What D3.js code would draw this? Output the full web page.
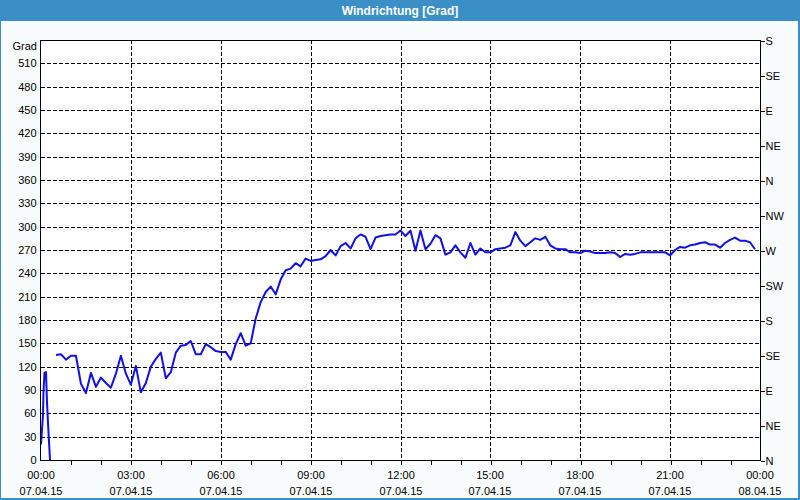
<!DOCTYPE html>
<html>
<head>
<meta charset="utf-8">
<script src="https://cdn.jsdelivr.net/npm/d3@7"></script>
<style>
  html, body { margin: 0; padding: 0; }
  body { width: 800px; height: 500px; overflow: hidden; background: #3b8fc7; }
  svg { display: block; }
  text { font-family: "Liberation Sans", Arial, sans-serif; font-size: 11px; fill: #000; }
</style>
</head>
<body>
<svg id="chart" width="800" height="500"></svg>
<script>
// ---- data ----
const chartTitle = "Windrichtung [Grad]";
const yUnit = "Grad";
const day = [2015, 3, 7]; // 07.04.2015
// first short segment (irregular samples just after midnight)
const startTimes = ["00:00", "00:04", "00:05", "00:07", "00:10", "00:12", "00:14", "00:18", "00:20"];
const startValues = [20, 58, 88, 112, 113, 75, 48, 0, null];
// main series: 10-minute samples from 00:30 to 23:50
const mainStart = "00:30";
const mainStepMinutes = 10;
const mainValues = [
  135, 136, 129, 134, 134, 98, 86, 112, 94, 106, 99, 93, 111, 134, 111,
  97, 121, 87, 99, 120, 130, 138, 105, 113, 138, 147, 148,
  153, 136, 136, 149, 145, 140,
  139, 139, 129, 149, 163, 147,
  150, 182, 203, 216, 223, 213,
  232, 244, 246, 253, 249, 259,
  256, 257, 258, 262, 270, 263,
  275, 279, 272, 285, 290, 287,
  271, 286, 288, 289, 290, 290,
  295, 288, 295, 269, 295, 271,
  278, 289, 285, 264, 267, 276,
  267, 260, 279, 264, 272, 267,
  267, 271, 272, 273, 276, 293,
  282, 275, 280, 285, 283, 287,
  276, 272, 271, 271, 267, 267,
  266, 269, 268, 266, 266, 266,
  267, 266, 261, 265, 264, 265,
  267, 267, 267, 267, 267, 267,
  263, 270, 274, 273, 276, 277,
  279, 280, 277, 277, 273, 279,
  283, 286, 282, 282, 280, 271
];
const yTicks = d3.range(0, 511, 30);
const dirTicks = d3.range(0, 541, 45);
const dirLabels = ["N", "NE", "E", "SE", "S", "SW", "W", "NW", "N", "NE", "E", "SE", "S"];
const xLabelHours = [0, 3, 6, 9, 12, 15, 18, 21, 24];

// ---- build points ----
function toDate(hhmm) {
  const [h, m] = hhmm.split(":").map(Number);
  return new Date(day[0], day[1], day[2], h, m);
}
const points = startTimes.map((t, i) => ({ t: toDate(t), v: startValues[i] }));
const t0 = toDate(mainStart);
mainValues.forEach((v, i) => {
  points.push({ t: new Date(t0.getTime() + i * mainStepMinutes * 60000), v });
});

// ---- layout ----
const svg = d3.select("#chart");
const L = 41, R = 760, T = 40, B = 460;

// background frame
svg.append("rect").attr("x", 0).attr("y", 0).attr("width", 800).attr("height", 500).attr("fill", "#3b8fc7");
svg.append("rect").attr("x", 1).attr("y", 21).attr("width", 797).attr("height", 477).attr("fill", "#f9fcfc");
svg.append("rect").attr("x", L).attr("y", T).attr("width", R - L).attr("height", B - T).attr("fill", "#ffffff");

svg.append("text").attr("x", 400).attr("y", 15).attr("text-anchor", "middle")
  .style("font-weight", "bold").style("font-size", "12px").style("fill", "#ffffff").text(chartTitle);

const x = d3.scaleTime().domain([toDate("00:00"), new Date(day[0], day[1], day[2] + 1, 0, 0)]).range([L, R]);
const y = d3.scaleLinear().domain([0, 540]).range([B, T]);

// grid
const grid = svg.append("g").attr("stroke", "#000").attr("stroke-width", 1)
  .attr("stroke-dasharray", "4,2").attr("shape-rendering", "crispEdges");
grid.selectAll("line.h").data(yTicks.filter(d => d > 0)).join("line")
  .attr("x1", L).attr("x2", R).attr("y1", d => Math.round(y(d)) + 0.5).attr("y2", d => Math.round(y(d)) + 0.5);
grid.selectAll("line.v").data(xLabelHours.filter(h => h > 0 && h < 24)).join("line")
  .attr("y1", T).attr("y2", B)
  .attr("x1", h => Math.round(x(new Date(day[0], day[1], day[2], h))) + 0.5)
  .attr("x2", h => Math.round(x(new Date(day[0], day[1], day[2], h))) + 0.5);

// data line
const line = d3.line().defined(d => d.v != null).x(d => x(d.t)).y(d => y(d.v));
svg.append("path").datum(points).attr("d", line)
  .attr("fill", "none").attr("stroke", "#1010e8").attr("stroke-width", 2).attr("stroke-linejoin", "round");

// frame
svg.append("rect").attr("x", L - 0.5).attr("y", T + 0.5).attr("width", R - L + 1).attr("height", B - T)
  .attr("fill", "none").attr("stroke", "#000").attr("shape-rendering", "crispEdges");

// left axis
const leftAxis = svg.append("g").attr("transform", `translate(${L - 0.5},0)`)
  .call(d3.axisLeft(y).tickValues(yTicks).tickSize(0).tickPadding(4).tickFormat(d3.format("d")));
leftAxis.select(".domain").remove();
leftAxis.selectAll("text").style("font-family", "Liberation Sans, Arial, sans-serif").style("font-size", "11px").attr("fill", "#000");
svg.append("text").attr("x", 37).attr("y", 50).attr("text-anchor", "end").text(yUnit);

// right axis
const rightAxis = svg.append("g").attr("transform", `translate(${R + 0.5},0.5)`)
  .call(d3.axisRight(y).tickValues(dirTicks).tickSize(4).tickPadding(1).tickFormat((d, i) => dirLabels[i]));
rightAxis.select(".domain").remove();
rightAxis.selectAll("line").attr("stroke", "#000").attr("shape-rendering", "crispEdges");
rightAxis.selectAll("text").style("font-family", "Liberation Sans, Arial, sans-serif").style("font-size", "11px").attr("fill", "#000");

// bottom axis
const hourTicks = d3.range(1, 24).map(h => new Date(day[0], day[1], day[2], h));
const bottomAxis = svg.append("g").attr("transform", `translate(0.5,${B + 0.5})`)
  .call(d3.axisBottom(x).tickValues(hourTicks).tickSize(4).tickFormat(""));
bottomAxis.select(".domain").remove();
bottomAxis.selectAll("line").attr("stroke", "#000").attr("shape-rendering", "crispEdges");

const fmtTime = d3.timeFormat("%H:%M"), fmtDate = d3.timeFormat("%d.%m.%y");
const xl = svg.append("g").selectAll("g").data(xLabelHours).join("g")
  .attr("transform", h => `translate(${Math.round(x(new Date(day[0], day[1], day[2], h)))},0)`);
xl.append("text").attr("y", 479).attr("text-anchor", "middle").text(h => fmtTime(new Date(day[0], day[1], day[2], h)));
xl.append("text").attr("y", 495).attr("text-anchor", "middle").text(h => fmtDate(new Date(day[0], day[1], day[2], h)));
</script>
</body>
</html>
